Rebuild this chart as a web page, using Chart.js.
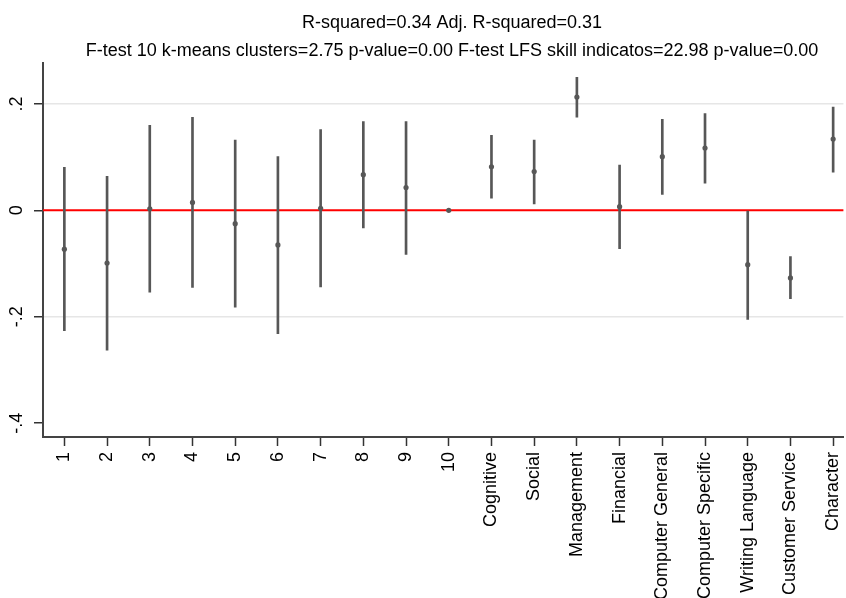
<!DOCTYPE html>
<html lang="en">
<head>
<meta charset="UTF-8">
<title>Coefficients by cluster and skill</title>
<style>
  html, body { margin: 0; padding: 0; background: #fff; }
  #chart { display: block; }
</style>
</head>
<body>
<canvas id="chart" width="846" height="598"></canvas>

<script src="https://cdn.jsdelivr.net/npm/chart.js"></script>
<script>
  const titleLines = [
    'R-squared=0.34 Adj. R-squared=0.31',
    'F-test 10 k-means clusters=2.75 p-value=0.00 F-test LFS skill indicatos=22.98 p-value=0.00'
  ];

  const categories = ['1', '2', '3', '4', '5', '6', '7', '8', '9', '10',
    'Cognitive', 'Social', 'Management', 'Financial', 'Computer General',
    'Computer Specific', 'Writing Language', 'Customer Service', 'Character'];

  // point estimates and confidence bounds (10 is the reference category)
  const estimates = [-0.073, -0.099, 0.003, 0.015, -0.025, -0.065, 0.004, 0.067, 0.043, 0.000,
    0.082, 0.073, 0.213, 0.007, 0.101, 0.117, -0.102, -0.127, 0.134];
  const lower = [-0.226, -0.263, -0.154, -0.145, -0.182, -0.232, -0.144, -0.033, -0.083, null,
    0.023, 0.012, 0.175, -0.072, 0.030, 0.051, -0.205, -0.166, 0.072];
  const upper = [0.081, 0.064, 0.160, 0.175, 0.132, 0.101, 0.152, 0.167, 0.167, null,
    0.141, 0.132, 0.250, 0.085, 0.171, 0.182, 0.000, -0.087, 0.194];

  const yTicks = [0.2, 0, -0.2, -0.4];
  const yTickLabels = ['.2', '0', '-.2', '-.4'];
  const gridAt = [0.2, -0.2];
  const refLine = 0;

  const fontFamily = "'Liberation Sans', Arial, sans-serif";
  Chart.defaults.font.family = fontFamily;
  Chart.defaults.color = '#000';

  const markColor = '#575757';

  // red line at zero, under the marks
  const zeroLine = {
    id: 'zeroLine',
    beforeDatasetsDraw(chart) {
      const { ctx, chartArea, scales } = chart;
      const y = scales.y.getPixelForValue(refLine);
      ctx.save();
      ctx.strokeStyle = '#ff0000';
      ctx.lineWidth = 2;
      ctx.beginPath();
      ctx.moveTo(chartArea.left, y);
      ctx.lineTo(chartArea.right, y);
      ctx.stroke();
      ctx.restore();
    }
  };

  // y labels turned like the x labels, plus the two title lines
  // (the title sits a bit right of the canvas centre in the original)
  const extraText = {
    id: 'extraText',
    afterDraw(chart) {
      const { ctx, scales } = chart;
      ctx.save();
      ctx.fillStyle = '#000';
      ctx.font = '18px ' + fontFamily;
      ctx.textAlign = 'center';
      ctx.textBaseline = 'middle';
      yTicks.forEach((v, i) => {
        const y = scales.y.getPixelForValue(v);
        ctx.save();
        ctx.translate(17, y);
        ctx.rotate(-Math.PI / 2);
        ctx.fillText(yTickLabels[i], 0, 0);
        ctx.restore();
      });
      ctx.textBaseline = 'alphabetic';
      titleLines.forEach((t, i) => {
        ctx.fillText(t, 452, 28 + i * 28);
      });
      ctx.restore();
    }
  };

  const ctx = document.getElementById('chart').getContext('2d');
  new Chart(ctx, {
    type: 'scatter',
    data: {
      datasets: [
        {
          type: 'scatter',
          data: estimates.map((v, i) => ({ x: i + 1, y: v })),
          backgroundColor: markColor,
          borderWidth: 0,
          pointRadius: 2.6,
          pointHoverRadius: 2.6
        },
        {
          type: 'bar',
          data: categories.map((c, i) => ({
            x: i + 1,
            y: lower[i] === null ? null : [lower[i], upper[i]]
          })),
          backgroundColor: markColor,
          borderWidth: 0,
          barThickness: 2,
          grouped: false
        }
      ]
    },
    options: {
      responsive: false,
      animation: false,
      layout: { padding: { top: 63, left: 0, right: 0, bottom: 0 } },
      plugins: {
        legend: { display: false },
        tooltip: { enabled: false },
        title: { display: false }
      },
      scales: {
        x: {
          type: 'linear',
          min: 0.5,
          max: 19.24,
          offset: false,
          afterBuildTicks(scale) {
            scale.ticks = categories.map((c, i) => ({ value: i + 1 }));
          },
          afterFit(scale) {
            scale.height = 161;
            scale.paddingLeft = 0;
            scale.paddingRight = 0;
          },
          ticks: {
            autoSkip: false,
            minRotation: 90,
            maxRotation: 90,
            padding: 6,
            color: '#000',
            font: { size: 18 },
            callback: (v, i) => categories[i]
          },
          grid: {
            offset: false,
            drawOnChartArea: false,
            tickLength: 9,
            tickWidth: 1.5,
            tickColor: '#333'
          },
          border: { display: true, color: '#444', width: 2 }
        },
        y: {
          type: 'linear',
          min: -0.426,
          max: 0.277,
          afterBuildTicks(scale) {
            scale.ticks = yTicks.map(v => ({ value: v }));
          },
          afterFit(scale) {
            scale.width = 43;
          },
          ticks: { display: false },
          grid: {
            color: c => gridAt.includes(c.tick.value) ? '#e6e6e6' : 'rgba(0,0,0,0)',
            lineWidth: 1.5,
            tickLength: 9,
            tickWidth: 1.5,
            tickColor: '#333'
          },
          border: { display: true, color: '#444', width: 2 }
        }
      }
    },
    plugins: [zeroLine, extraText]
  });
</script>
</body>
</html>
